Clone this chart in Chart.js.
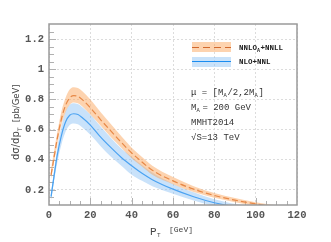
<!DOCTYPE html>
<html>
<head>
<meta charset="utf-8">
<script src="https://cdn.jsdelivr.net/npm/chart.js@4"></script>
<style>
    html, body { margin: 0; padding: 0; background: #fff; }
    #wrap { width: 331px; height: 242px; }
</style>
</head>
<body>
<div id="wrap"><canvas id="ptChart"></canvas></div>
<script>
const ptValues = [1, 2, 4, 6, 8, 10, 12, 14, 16, 20, 25, 30, 35, 40, 45, 50, 60, 70, 80, 90, 100, 110, 120];

// NNLO_A+NNLL (dashed) and its scale band
const nnloCentral = [0.30, 0.38, 0.54, 0.67, 0.76, 0.81, 0.825, 0.82, 0.80, 0.745, 0.665, 0.59, 0.515, 0.445, 0.385, 0.33, 0.26, 0.205, 0.163, 0.132, 0.107, 0.088, 0.073];
const nnloLower   = [0.27, 0.35, 0.50, 0.63, 0.715, 0.765, 0.78, 0.775, 0.755, 0.70, 0.625, 0.55, 0.48, 0.41, 0.355, 0.30, 0.238, 0.186, 0.148, 0.119, 0.096, 0.079, 0.065];
const nnloUpper   = [0.34, 0.42, 0.58, 0.72, 0.81, 0.865, 0.88, 0.875, 0.855, 0.80, 0.715, 0.635, 0.555, 0.48, 0.418, 0.36, 0.285, 0.225, 0.18, 0.146, 0.119, 0.098, 0.082];

// NLO+NNL (solid) and its scale band
const nloCentral = [0.155, 0.25, 0.43, 0.56, 0.65, 0.695, 0.705, 0.70, 0.68, 0.63, 0.55, 0.48, 0.415, 0.36, 0.31, 0.268, 0.205, 0.155, 0.115, 0.088, 0.068, 0.053, 0.042];
const nloLower   = [0.13, 0.22, 0.38, 0.50, 0.585, 0.63, 0.64, 0.635, 0.615, 0.565, 0.49, 0.42, 0.36, 0.30, 0.26, 0.225, 0.175, 0.13, 0.095, 0.072, 0.055, 0.043, 0.034];
const nloUpper   = [0.18, 0.28, 0.48, 0.62, 0.72, 0.765, 0.775, 0.77, 0.75, 0.70, 0.62, 0.545, 0.475, 0.42, 0.365, 0.315, 0.24, 0.185, 0.138, 0.107, 0.083, 0.065, 0.052];

const xTicks = [0, 20, 40, 60, 80, 100, 120];
const yTicks = [0.2, 0.4, 0.6, 0.8, 1, 1.2];

const ORANGE_BAND = 'rgba(252, 168, 95, 0.5)';
const ORANGE_LINE = '#d2692e';
const BLUE_BAND = 'rgba(135, 190, 245, 0.45)';
const BLUE_LINE = '#1a8cf0';
const MONO = "'Liberation Mono', 'DejaVu Sans Mono', monospace";

function points(vals) {
    return ptValues.map((x, i) => ({ x: x, y: vals[i] }));
}

function bandSet(vals, fill, color) {
    return {
        data: points(vals),
        borderWidth: 0,
        pointRadius: 0,
        backgroundColor: color,
        fill: fill,
        cubicInterpolationMode: 'monotone'
    };
}

// minor ticks, frame, axis titles, legend and the text block
const decorations = {
    id: 'decorations',
    beforeDatasetsDraw(chart) {
        const ctx = chart.ctx;
        const a = chart.chartArea;
        const xs = chart.scales.x, ys = chart.scales.y;
        ctx.save();
        ctx.strokeStyle = '#b0b0b0';
        ctx.lineWidth = 1;
        for (let v = 5; v < 120; v += 5) {
            const px = Math.round(xs.getPixelForValue(v)) + 0.5;
            const len = v % 20 === 0 ? 7 : 4;
            ctx.beginPath();
            ctx.moveTo(px, a.bottom);
            ctx.lineTo(px, a.bottom - len);
            ctx.stroke();
        }
        for (let k = 3; k < 26; k++) {
            const v = k * 0.05;
            const py = Math.round(ys.getPixelForValue(v)) + 0.5;
            const len = k % 4 === 0 ? 7 : 5;
            ctx.beginPath();
            ctx.moveTo(a.left, py);
            ctx.lineTo(a.left + len, py);
            ctx.stroke();
        }
        ctx.restore();
    },
    afterDraw(chart) {
        const ctx = chart.ctx;
        const a = chart.chartArea;
        ctx.save();

        // frame
        ctx.strokeStyle = '#9a9a9a';
        ctx.lineWidth = 1.5;
        ctx.strokeRect(a.left, a.top, a.right - a.left, a.bottom - a.top);

        // x title
        ctx.fillStyle = '#444';
        ctx.textBaseline = 'alphabetic';
        ctx.font = '11px ' + MONO;
        ctx.fillText('P', 150, 235);
        ctx.font = '6px ' + MONO;
        ctx.fillText('T', 157, 237);
        ctx.font = '8px ' + MONO;
        ctx.fillText('[GeV]', 169, 232);

        // y title
        ctx.save();
        ctx.translate(19, 160);
        ctx.rotate(-Math.PI / 2);
        ctx.font = "10px 'DejaVu Sans', sans-serif";
        ctx.fillText('d\u03c3/dp', 0, 0);
        let w = ctx.measureText('d\u03c3/dp').width;
        ctx.font = "6px 'DejaVu Sans', sans-serif";
        ctx.fillText('T', w, 3);
        ctx.font = "8.5px 'DejaVu Sans', sans-serif";
        ctx.fillText('[pb/GeV]', w + 9, 0);
        ctx.restore();

        // legend
        ctx.fillStyle = ORANGE_BAND;
        ctx.fillRect(192, 42, 39, 10);
        ctx.strokeStyle = ORANGE_LINE;
        ctx.lineWidth = 1.2;
        ctx.setLineDash([7, 4]);
        ctx.beginPath();
        ctx.moveTo(192, 47.5);
        ctx.lineTo(231, 47.5);
        ctx.stroke();
        ctx.setLineDash([]);
        ctx.fillStyle = BLUE_BAND;
        ctx.fillRect(192, 57, 39, 10);
        ctx.strokeStyle = BLUE_LINE;
        ctx.beginPath();
        ctx.moveTo(192, 61.5);
        ctx.lineTo(231, 61.5);
        ctx.stroke();

        ctx.fillStyle = '#222';
        ctx.font = 'bold 7.5px ' + MONO;
        ctx.fillText('NNLO', 239, 50);
        let lw = ctx.measureText('NNLO').width;
        ctx.font = 'bold 5px ' + MONO;
        ctx.fillText('A', 239 + lw, 52);
        ctx.font = 'bold 7.5px ' + MONO;
        ctx.fillText('+NNLL', 239 + lw + 3.5, 50);
        ctx.fillText('NLO+NNL', 239, 64);

        // text block
        ctx.fillStyle = '#333';
        const f = '9px ' + MONO;
        const fs = '5.5px ' + MONO;
        ctx.font = f;
        ctx.fillText('\u03bc = [M', 191, 95);
        let x = 191 + ctx.measureText('\u03bc = [M').width;
        ctx.font = fs; ctx.fillText('A', x, 97);
        x += 4;
        ctx.font = f; ctx.fillText('/2,2M', x, 95);
        x += ctx.measureText('/2,2M').width;
        ctx.font = fs; ctx.fillText('A', x, 97);
        x += 4;
        ctx.font = f; ctx.fillText(']', x, 95);

        ctx.fillText('M', 191, 110);
        x = 191 + ctx.measureText('M').width;
        ctx.font = fs; ctx.fillText('A', x, 112);
        ctx.font = f; ctx.fillText('= 200 GeV', x + 6, 110);

        ctx.fillText('MMHT2014', 191, 125);
        ctx.fillText('\u221aS=13 TeV', 191, 140);
        ctx.restore();
    }
};

new Chart(document.getElementById('ptChart'), {
    type: 'line',
    data: {
        datasets: [
            bandSet(nnloLower, false, ORANGE_BAND),
            bandSet(nnloUpper, '-1', ORANGE_BAND),
            bandSet(nloLower, false, BLUE_BAND),
            bandSet(nloUpper, '-1', BLUE_BAND),
            {
                data: points(nnloCentral),
                borderColor: ORANGE_LINE,
                borderWidth: 1.2,
                borderDash: [6, 3],
                pointRadius: 0,
                fill: false,
                cubicInterpolationMode: 'monotone'
            },
            {
                data: points(nloCentral),
                borderColor: BLUE_LINE,
                borderWidth: 1.2,
                pointRadius: 0,
                fill: false,
                cubicInterpolationMode: 'monotone'
            }
        ]
    },
    options: {
        responsive: true,
        maintainAspectRatio: false,
        animation: false,
        layout: { padding: { top: 24, right: 34, left: 0, bottom: 0 } },
        plugins: {
            legend: { display: false },
            tooltip: { enabled: false },
            filler: { propagate: false }
        },
        scales: {
            x: {
                type: 'linear',
                min: 0,
                max: 120,
                afterBuildTicks: (scale) => { scale.ticks = xTicks.map(v => ({ value: v })); },
                afterFit: (scale) => { scale.height = 37; },
                grid: { color: '#dcdcdc', drawTicks: false },
                border: { display: false, dash: [2, 2] },
                ticks: {
                    color: '#555',
                    padding: 4,
                    maxRotation: 0,
                    font: { family: MONO, size: 10.5, weight: 'bold' }
                }
            },
            y: {
                min: 0.1,
                max: 1.3,
                afterBuildTicks: (scale) => { scale.ticks = yTicks.map(v => ({ value: v })); },
                afterFit: (scale) => { scale.width = 49; },
                grid: { color: '#dcdcdc', drawTicks: false },
                border: { display: false, dash: [2, 2] },
                ticks: {
                    color: '#555',
                    padding: 5,
                    font: { family: MONO, size: 10.5, weight: 'bold' },
                    callback: (v) => (Math.round(v * 10) / 10 === 1 ? '1' : (Math.round(v * 10) / 10).toFixed(1))
                }
            }
        }
    },
    plugins: [decorations]
});
</script>
</body>
</html>
